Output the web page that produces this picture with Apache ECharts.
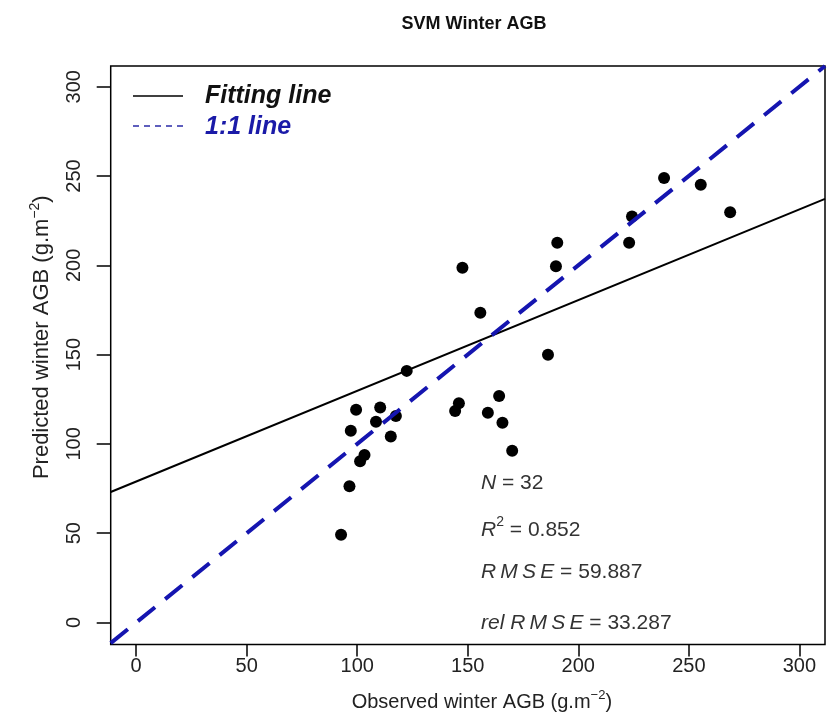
<!DOCTYPE html>
<html><head><meta charset="utf-8">
<script src="https://cdn.jsdelivr.net/npm/echarts@6.0.0/dist/echarts.min.js"></script>
<style>html,body{margin:0;padding:0;background:#fff}#c{width:827px;height:717px}</style>
</head><body><div id="c"></div>
<script>
// observed (x) and predicted (y) winter AGB
const observed = [96.5, 92.7, 97.1, 99.5, 103.3, 101.3, 108.5, 110.4, 115.2, 117.5, 122.4,
  144.3, 146.0, 147.6, 155.7, 159.1, 164.2, 165.7, 170.1, 186.3, 189.9, 190.5,
  223.0, 224.3, 238.8, 255.4, 268.7];
const predicted = [76.3, 49.1, 107.4, 119.1, 93.8, 90.3, 112.4, 120.4, 104.2, 115.7, 140.9,
  118.4, 122.8, 198.6, 173.5, 117.4, 126.9, 111.8, 96.2, 149.9, 199.5, 212.6,
  212.6, 227.4, 248.9, 245.1, 229.7];
// fitting line endpoints and 1:1 line endpoints
const fitX = [-11.5, 311.6];
const fitY = [73.1, 237.2];
const oneX = [-11.5, 311.6];
const oneY = [-11.5, 311.6];
const xTicks = [0, 50, 100, 150, 200, 250, 300];
const yTicks = [0, 50, 100, 150, 200, 250, 300];

const FONT = 'Liberation Sans, Arial, sans-serif';
const chart = echarts.init(document.getElementById('c'), null, {renderer: 'canvas'});

const pts = observed.map((x, i) => [x, predicted[i]]);
const fitPts = fitX.map((x, i) => [x, fitY[i]]);
const onePts = oneX.map((x, i) => [x, oneY[i]]);
const TS = '\u2009';

chart.setOption({
  backgroundColor: '#fff',
  animation: false,
  title: {
    text: 'SVM Winter AGB', left: 469, top: 10, textAlign: 'center',
    textStyle: {fontFamily: FONT, fontSize: 18, fontWeight: 'bold', color: '#111'}
  },
  grid: {left: 110.7, top: 66, right: 2, bottom: 71, show: true, borderColor: '#000', borderWidth: 1.5, backgroundColor: 'transparent'},
  xAxis: {
    type: 'value', min: -11.5, max: 311.6,
    axisLine: {show: false, onZero: false},
    splitLine: {show: false},
    axisTick: {show: true, inside: false, length: 12, customValues: xTicks, lineStyle: {color: '#000', width: 1.5}},
    axisLabel: {show: true, customValues: xTicks, margin: 12, fontFamily: FONT, fontSize: 20, color: '#222'},
    name: 'Observed winter AGB (g.m{sup|−2})',
    nameLocation: 'middle', nameGap: 44,
    nameTextStyle: {fontFamily: FONT, fontSize: 20, color: '#222', padding: [0, 0, 0, 28],
      rich: {sup: {fontFamily: FONT, fontSize: 13, color: '#222', verticalAlign: 'top', padding: [0, 0, 14, 0]}}}
  },
  yAxis: {
    type: 'value', min: -12.3, max: 311.6,
    axisLine: {show: false, onZero: false},
    splitLine: {show: false},
    axisTick: {show: true, inside: false, length: 14, customValues: yTicks, lineStyle: {color: '#000', width: 1.5}},
    axisLabel: {show: true, customValues: yTicks, rotate: 90, margin: 26, fontFamily: FONT, fontSize: 20, color: '#222'},
    name: 'Predicted winter AGB (g.m{sup|−2})',
    nameLocation: 'middle', nameGap: 54,
    nameTextStyle: {fontFamily: FONT, fontSize: 22, color: '#222', padding: [0, 0, 0, 36],
      rich: {sup: {fontFamily: FONT, fontSize: 14, color: '#222', verticalAlign: 'top', padding: [0, 0, 15, 0]}}}
  },
  series: [
    {type: 'scatter', data: pts, symbol: 'circle', symbolSize: 12, itemStyle: {color: '#000', opacity: 1}, z: 2},
    {type: 'line', data: fitPts, symbol: 'none', lineStyle: {color: '#000', width: 2}, z: 3, clip: true},
    {type: 'line', data: onePts, symbol: 'none', lineStyle: {color: '#1515b0', width: 4, type: [22, 13]}, z: 4, clip: true}
  ],
  graphic: [
    {type: 'line', shape: {x1: 133, y1: 96, x2: 183, y2: 96}, style: {stroke: '#000', lineWidth: 1.5}},
    {type: 'text', x: 205, y: 96, style: {text: 'Fitting line', fontFamily: FONT, fontSize: 25, fontWeight: 'bold', fontStyle: 'italic', fill: '#111', verticalAlign: 'middle'}},
    {type: 'line', shape: {x1: 133, y1: 126, x2: 183, y2: 126}, style: {stroke: '#2a2aa8', lineWidth: 1.5, lineDash: [6, 5]}},
    {type: 'text', x: 205, y: 127, style: {text: '1:1 line', fontFamily: FONT, fontSize: 25, fontWeight: 'bold', fontStyle: 'italic', fill: '#1a1aa8', verticalAlign: 'middle'}},
    {type: 'text', x: 481, y: 483, style: {text: '{i|N} = 32', fontFamily: FONT, fontSize: 21, fill: '#333', verticalAlign: 'middle',
      rich: {i: {fontFamily: FONT, fontSize: 21, fontStyle: 'italic', color: '#333'}}}},
    {type: 'text', x: 481, y: 530, style: {text: '{i|R}{sup|2} = 0.852', fontFamily: FONT, fontSize: 21, fill: '#333', verticalAlign: 'middle',
      rich: {i: {fontFamily: FONT, fontSize: 21, fontStyle: 'italic', color: '#333'}, sup: {fontFamily: FONT, fontSize: 14, color: '#333', padding: [0, 0, 15, 0]}}}},
    {type: 'text', x: 481, y: 572, style: {text: '{i|R' + TS + 'M' + TS + 'S' + TS + 'E} = 59.887', fontFamily: FONT, fontSize: 21, fill: '#333', verticalAlign: 'middle',
      rich: {i: {fontFamily: FONT, fontSize: 21, fontStyle: 'italic', color: '#333'}}}},
    {type: 'text', x: 481, y: 623, style: {text: '{i|rel R' + TS + 'M' + TS + 'S' + TS + 'E} = 33.287', fontFamily: FONT, fontSize: 21, fill: '#333', verticalAlign: 'middle',
      rich: {i: {fontFamily: FONT, fontSize: 21, fontStyle: 'italic', color: '#333'}}}}
  ]
});
</script></body></html>
